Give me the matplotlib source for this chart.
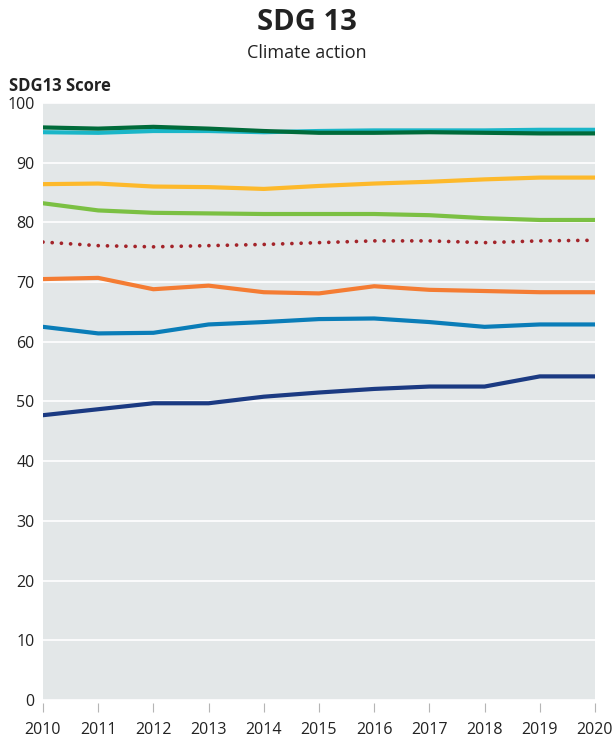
import matplotlib.pyplot as plt

plt.rcParams['font.family'] = ['Open Sans', 'DejaVu Sans']

years = list(range(2010, 2021))

# SDG13 score per group
cyan = [95.1, 95.0, 95.3, 95.3, 95.1, 95.3, 95.4, 95.4, 95.4, 95.5, 95.5]
dark_green = [95.9, 95.7, 96.0, 95.7, 95.3, 95.0, 95.0, 95.1, 95.0, 94.9, 94.9]
yellow = [86.4, 86.5, 86.0, 85.9, 85.6, 86.1, 86.5, 86.8, 87.2, 87.5, 87.5]
green = [83.2, 82.0, 81.6, 81.5, 81.4, 81.4, 81.4, 81.2, 80.7, 80.4, 80.4]
dotted_red = [76.7, 76.1, 75.9, 76.1, 76.3, 76.6, 76.9, 76.9, 76.6, 76.9, 77.0]
orange = [70.5, 70.7, 68.8, 69.4, 68.3, 68.1, 69.3, 68.7, 68.5, 68.3, 68.3]
blue = [62.5, 61.4, 61.5, 62.9, 63.3, 63.8, 63.9, 63.3, 62.5, 62.9, 62.9]
navy = [47.7, 48.7, 49.7, 49.7, 50.8, 51.5, 52.1, 52.5, 52.5, 54.2, 54.2]

fig = plt.figure(figsize=(6.13, 7.38), dpi=100)
ax = fig.add_axes([0.0701, 0.0515, 0.9005, 0.809])
ax.set_facecolor('#e3e7e8')

lw = 3.0
ax.plot(years, navy, color='#1b3a82', lw=lw, solid_capstyle='round')
ax.plot(years, blue, color='#0a7db8', lw=lw, solid_capstyle='round')
ax.plot(years, orange, color='#f47c33', lw=lw, solid_capstyle='round')
ax.plot(years, dotted_red, color='#a3242a', lw=2.7, linestyle=(0, (0.01, 2.45)),
        dash_capstyle='round')
ax.plot(years, green, color='#7bc043', lw=lw, solid_capstyle='round')
ax.plot(years, yellow, color='#fdb92b', lw=lw, solid_capstyle='round')
ax.plot(years, cyan, color='#1ab6c8', lw=lw, solid_capstyle='round')
ax.plot(years, dark_green, color='#006b3a', lw=lw, solid_capstyle='round')

ax.set_xlim(2010, 2020)
ax.set_ylim(0, 100)
ax.set_xticks(years)
ax.set_yticks(range(0, 101, 10))
ax.grid(axis='y', color='white', lw=1.2)
ax.set_axisbelow(True)
for s in ax.spines.values():
    s.set_visible(False)
# ticks sit a little below the plot area
ax.spines['bottom'].set_position(('outward', 2.5))
ax.tick_params(axis='y', length=0, labelsize=11.5, pad=6, labelcolor='#222222')
ax.tick_params(axis='x', length=6.5, color='#b5b5b5', width=0.8, labelsize=11.5,
               pad=6.5, labelcolor='#222222', direction='out')

fig.text(0.5, 0.970, 'SDG 13', ha='center', va='center', fontsize=21,
         fontweight='bold', color='#222222')
fig.text(0.5, 0.928, 'Climate action', ha='center', va='center', fontsize=13,
         color='#222222')
fig.text(0.015, 0.884, 'SDG13 Score', ha='left', va='center', fontsize=12,
         fontweight='bold', color='#222222')

fig.savefig('out.png', dpi=100)
